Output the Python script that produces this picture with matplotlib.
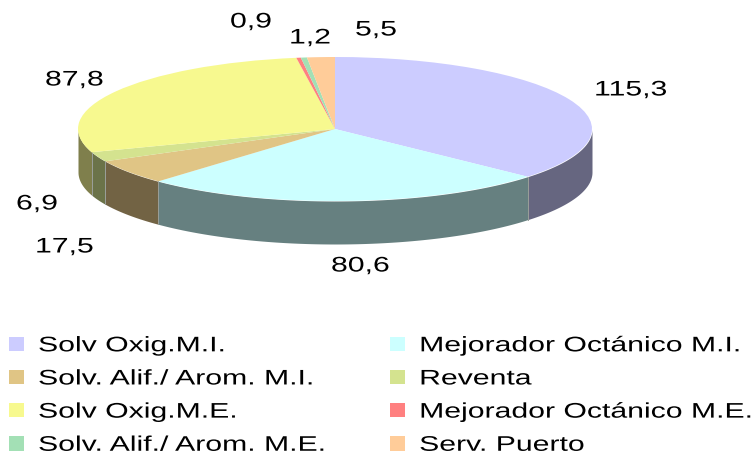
import numpy as np
import matplotlib
matplotlib.use("Agg")
import matplotlib.pyplot as plt
from matplotlib.patheffects import AbstractPathEffect
from matplotlib.transforms import Affine2D

plt.rcParams['font.family'] = ['Liberation Sans', 'DejaVu Sans']

categories = ["Solv Oxig.M.I.", "Mejorador Octánico M.I.", "Solv. Alif./ Arom. M.I.", "Reventa",
              "Solv Oxig.M.E.", "Mejorador Octánico M.E.", "Solv. Alif./ Arom. M.E.", "Serv. Puerto"]
values = [115.3, 80.6, 17.5, 6.9, 87.8, 0.9, 1.2, 5.5]
top_colors = ["#CCCCFF", "#CCFFFF", "#E0C585", "#D4E38F", "#F7F98F", "#FF8080", "#A3E0B5", "#FFCC99"]
side_colors = ["#666680", "#668080", "#726344", "#6B7349", "#7F7F4C", "#804040", "#52705A", "#80664C"]


class WideText(AbstractPathEffect):
    """Stretch glyphs horizontally about the text's left origin."""
    def __init__(self, factor):
        super().__init__()
        self.factor = factor

    def draw_path(self, renderer, gc, tpath, affine, rgbFace=None):
        tx = affine.get_matrix()[0, 2]
        extra = Affine2D().translate(-tx, 0).scale(self.factor, 1).translate(tx, 0)
        renderer.draw_path(gc, tpath, affine + extra, rgbFace)


W, H = 751, 453
cx_l, cx_r, y_top, y_face_bot, depth = 78, 592, 57, 201, 43
ry = (y_face_bot - y_top) / 2
stretch = WideText(1.43)

fig = plt.figure(figsize=(W / 100, H / 100), dpi=100, facecolor="white")
ax = fig.add_axes([cx_l / W, 1 - (y_face_bot + depth) / H, (cx_r - cx_l) / W, (y_face_bot + depth - y_top) / H])
wedges, _ = ax.pie(values, colors=top_colors, startangle=90, counterclock=False,
                   wedgeprops=dict(linewidth=0), radius=1, center=(0, 0), frame=False)
for w in wedges:
    w.set_zorder(3)
ax.set_aspect('auto')
ax.set_xlim(-1, 1)
d = depth / ry
ax.set_ylim(-1 - d, 1)
ax.axis('off')

# side wall of the visible (front) half
edges = np.concatenate([[0], np.cumsum(values)]) / np.sum(values) * 360
for a, b, col in zip(edges[:-1], edges[1:], side_colors):
    lo, hi = max(a, 90), min(b, 270)
    if hi <= lo:
        continue
    th = np.radians(np.linspace(lo, hi, 120))
    x = np.sin(th)
    y = np.cos(th)
    ax.fill_between(x, y, y - d, color=col, linewidth=0, zorder=1)
for e in edges[1:-1]:
    if 90 < e < 270:
        t = np.radians(e)
        ax.plot([np.sin(t)] * 2, [np.cos(t), np.cos(t) - d], color="#9a9f9a", lw=0.7, zorder=2)

# value labels (left edge, vertical centre in pixels)
label_px = [(594, 90), (331, 266), (35, 247), (16, 204), (45, 80), (230, 22), (289, 38), (355, 30)]
for v, (px, py) in zip(values, label_px):
    fig.text(px / W, 1 - py / H, f"{v:.1f}".replace(".", ","), fontsize=15.2,
             ha="left", va="center", color="black", path_effects=[stretch])

# legend, filled row by row
order = [0, 2, 4, 6, 1, 3, 5, 7]
leg = fig.legend([wedges[i] for i in order], [categories[i] for i in order], ncol=2,
                 loc="upper left", bbox_to_anchor=(3 / W, 1 - 330 / H), frameon=False,
                 fontsize=15.2, handlelength=0.68, handleheight=0.68, handletextpad=0.68,
                 columnspacing=7.17, labelspacing=0.67, borderpad=0.3, borderaxespad=0)
for t in leg.get_texts():
    t.set_path_effects([stretch])

fig.savefig("out.png", dpi=100)
